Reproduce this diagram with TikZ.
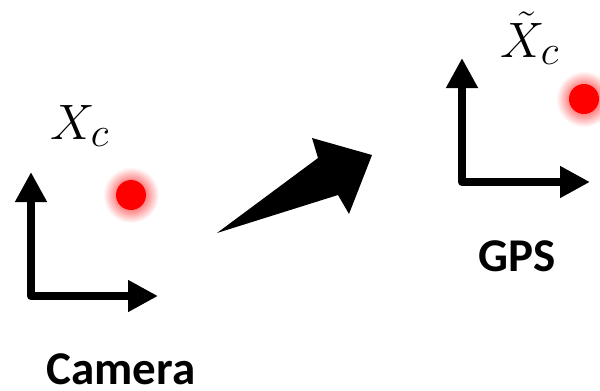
\documentclass[tikz,border=0pt]{standalone}
\usepackage{fontspec}
\setsansfont{Carlito}
\usetikzlibrary{arrows.meta, positioning}

% halo around a red point: solid core, then fading to white at the rim
\pgfdeclareradialshading{halo}{\pgfpoint{0bp}{0bp}}{%
  color(0bp)=(red!70); color(14bp)=(red!45); color(25bp)=(white); color(50bp)=(white)}

% red point with a soft halo
\newcommand{\glowdot}[1]{%
  \shade[shading=halo] (#1) circle (28);
  \fill[red] (#1) circle (15);
}

\begin{document}
\begin{tikzpicture}[x=0.5pt, y=-0.5pt,
    axes/.style={line width=4pt, line join=round,
      {Triangle[length=15pt, width=15pt]}-{Triangle[length=15pt, width=15pt]}},
    framename/.style={font=\sffamily\bfseries\fontsize{23.5}{28}\selectfont, inner sep=0pt},
    pointname/.style={font=\fontsize{28}{33}\selectfont, inner sep=0pt}]

    \useasboundingbox (0,0) rectangle (600,391);
    \clip (0,0) rectangle (600,391);

    % =================================================================
    % 1. COORDINATES
    % =================================================================
    % camera frame
    \coordinate (CamO) at (31,296);
    \coordinate (CamY) at (31,172);
    \coordinate (CamX) at (158,296);
    \coordinate (CamP) at (131,195);

    % GPS frame
    \coordinate (GpsO) at (462,182);
    \coordinate (GpsY) at (462,58);
    \coordinate (GpsX) at (590,182);
    \coordinate (GpsP) at (584,99);

    % =================================================================
    % 2. AXES
    % =================================================================
    \draw[axes] (CamY) -- (CamO) -- (CamX);
    \draw[axes] (GpsY) -- (GpsO) -- (GpsX);

    % =================================================================
    % 3. POINTS
    % =================================================================
    \glowdot{CamP}
    \glowdot{GpsP}

    % =================================================================
    % 4. BIG ARROW (camera -> GPS)
    % =================================================================
    \fill (217,233) -- (318,158) -- (312,138) -- (372,155)
          -- (349,214) -- (338,195) -- cycle;

    % =================================================================
    % 5. LABELS
    % =================================================================
    \node[pointname, anchor=base west] (camlabel) at (50,139) {$X_c$};
    \node[pointname, anchor=base west] (gpslabel) at (500,57) {$\tilde{X}_c$};

    \node[framename, anchor=base] (camname) at (121,384) {Camera};
    \node[framename, anchor=base] (gpsname) at (517,271) {GPS};

\end{tikzpicture}
\end{document}
